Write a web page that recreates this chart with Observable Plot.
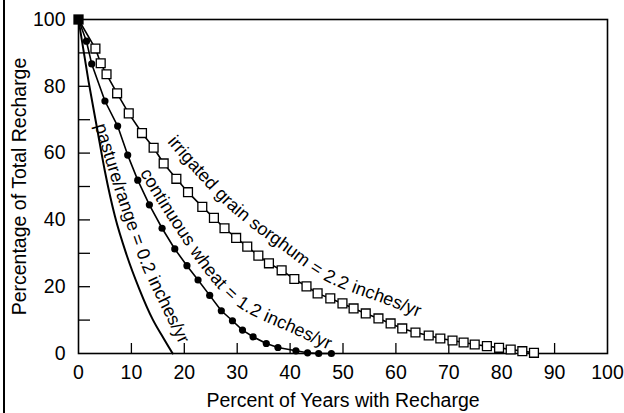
<!DOCTYPE html>
<html><head><meta charset="utf-8">
<script src="https://cdn.jsdelivr.net/npm/d3@7"></script>
<script src="https://cdn.jsdelivr.net/npm/@observablehq/plot@0.6"></script>
<style>
html,body{margin:0;padding:0;background:#fff;}
#wrap{position:relative;width:624px;height:413px;overflow:hidden;}
#edge{position:absolute;left:3px;top:0;width:2px;height:413px;background:#000;}
#wrap svg{position:absolute;left:0;top:0;}
</style></head><body>
<div id="wrap"><div id="edge"></div></div>
<script>
// Percent of years with recharge (x) vs percentage of total recharge (y)
const sorghum = [[0,100],[3.2,91.3],[4.2,86.9],[5.3,83.6],[7.3,77.9],[9.5,71.9],[12.0,66.0],[14.2,61.6],[16.1,56.9],[18.5,52.3],[20.7,48.3],[23.4,43.9],[25.6,40.6],[27.6,37.5],[29.8,34.6],[31.9,32.0],[34.0,29.3],[36.0,27.0],[38.4,24.9],[40.8,22.3],[43.1,20.1],[45.2,18.0],[47.6,16.5],[49.9,15.0],[52.0,13.5],[54.3,12.0],[56.7,10.5],[59.0,9.0],[61.2,7.5],[63.7,6.3],[66.2,5.4],[68.4,4.5],[70.7,3.9],[72.8,3.3],[74.9,2.7],[77.2,2.2],[79.5,1.7],[81.7,1.2],[83.9,0.7],[86.1,0.2]];
const wheat = [[0,100],[1.5,93.5],[2.5,86.7],[5.0,75.6],[7.4,68.1],[9.3,59.4],[11.2,51.9],[13.4,44.5],[15.8,37.5],[18.2,31.3],[20.5,26.3],[22.6,22.0],[24.8,17.4],[27.0,12.8],[29.1,9.8],[31.0,7.0],[33.0,5.0],[35.5,3.0],[37.7,1.8],[41.1,0.8],[43.3,0.2],[45.4,0],[47.8,0]];
const pasture = [[0,100],[1.9,81.5],[3.5,67.5],[5.0,54.5],[6.9,41.0],[9.1,29.5],[11.5,19.3],[14.0,10.3],[16.1,4.5],[17.8,0]];
const startPoint = [[0,100]];

const xTicks = [10,20,30,40,50,60,70,80,90];
const xTickLabels = [0,10,20,30,40,50,60,70,80,90,100];
const yTicks = [10,20,30,40,50,60,70,80,90];
const yTickLabels = [0,20,40,60,80,100];
const xTitle = "Percent of Years with Recharge";
const yTitle = "Percentage of Total Recharge";

// curve labels and the guide paths (data units) their text follows
const sorghumLabel = "irrigated grain sorghum = 2.2 inches/yr";
const wheatLabel = "continuous wheat = 1.2 inches/yr";
const pastureLabel = "pasture/range = 0.2 inches/yr";
const sorghumLabelPath = [[17.77,64.37],[22.68,55.39],[30.06,43.41],[38.75,32.93],[47.64,23.05],[58.41,16.47],[65.6,11.98],[70.32,9.28]];
const wheatLabelPath = [[12.7,54.79],[17.6,42.2],[25.1,24.85],[29.0,17.96],[32.2,14.07],[41.2,7.5],[48.2,2.4],[53.5,-1.2]];
const pastureLabelPath = [[4.34,68.56],[7.69,51.29],[11.77,32.34],[13.36,25.84],[18.0,10.6],[21.2,0.0],[22.3,-4.2]];

const font = "'Liberation Sans', Arial, Helvetica, sans-serif";
const axisFont = 19.5;
const chart = Plot.plot({
  width: 624, height: 413,
  marginLeft: 78, marginRight: 17, marginTop: 19, marginBottom: 60,
  x: {domain: [0, 100]},
  y: {domain: [0, 100]},
  style: {fontFamily: font, fontSize: axisFont + "px", color: "#000", background: "transparent", overflow: "visible"},
  marks: [
    Plot.axisY(yTicks, {tickSize: -12, tickFormat: () => "", label: null, strokeWidth: 1.3}),
    Plot.axisY(yTickLabels, {tickSize: 0, tickPadding: 13, label: null, fontSize: axisFont}),
    Plot.axisX(xTicks, {tickSize: -10, tickFormat: () => "", label: null, strokeWidth: 1.3}),
    Plot.axisX(xTickLabels, {tickSize: 0, tickPadding: 12, label: null, fontSize: axisFont}),
    Plot.frame({stroke: "#000", strokeWidth: 1.6}),
    Plot.text([xTitle], {frameAnchor: "bottom", lineAnchor: "middle", textAnchor: "middle", dy: 47.5, fontSize: axisFont, text: d => d}),
    Plot.text([yTitle], {frameAnchor: "left", lineAnchor: "middle", textAnchor: "middle", rotate: -90, dx: -59, fontSize: axisFont, text: d => d}),
    Plot.line(pasture, {x: d => d[0], y: d => d[1], curve: "monotone-x", stroke: "#000", strokeWidth: 2}),
    Plot.line(wheat, {x: d => d[0], y: d => d[1], stroke: "#000", strokeWidth: 1.6}),
    Plot.line(sorghum, {x: d => d[0], y: d => d[1], stroke: "#000", strokeWidth: 1.6}),
    Plot.dot(wheat.filter(d => d[0] > 0), {x: d => d[0], y: d => d[1], r: 3.6, fill: "#000", stroke: null}),
    Plot.dot(sorghum.filter(d => d[0] > 0), {x: d => d[0], y: d => d[1], symbol: "square", r: 5, fill: "#fff", stroke: "#000", strokeWidth: 1.3}),
    Plot.dot(startPoint, {x: d => d[0], y: d => d[1], symbol: "square", r: 5.8, fill: "#000", stroke: null})
  ]
});
document.getElementById("wrap").appendChild(chart);

const svg = d3.select(chart);
// drop the blank labels of the tick-only axes
svg.selectAll("text").filter(function () { return this.textContent.trim() === ""; }).remove();

// text along curves, positioned through the plot's own scales
const sx = chart.scale("x"), sy = chart.scale("y");
const guide = d3.line().curve(d3.curveCatmullRom.alpha(0.5));
[[sorghumLabel, sorghumLabelPath], [wheatLabel, wheatLabelPath], [pastureLabel, pastureLabelPath]].forEach(([txt, path], i) => {
  const pts = path.map(([x, y]) => [sx.apply(x), sy.apply(y)]);
  svg.append("path").attr("id", "labelpath" + i).attr("d", guide(pts)).attr("fill", "none").attr("stroke", "none");
  svg.append("text")
    .attr("font-family", font).attr("font-size", 18).attr("fill", "#000")
    .attr("text-anchor", "start").attr("dy", "0.35em")
    .append("textPath").attr("href", "#labelpath" + i).attr("startOffset", 0).text(txt);
});
</script>
</body></html>
